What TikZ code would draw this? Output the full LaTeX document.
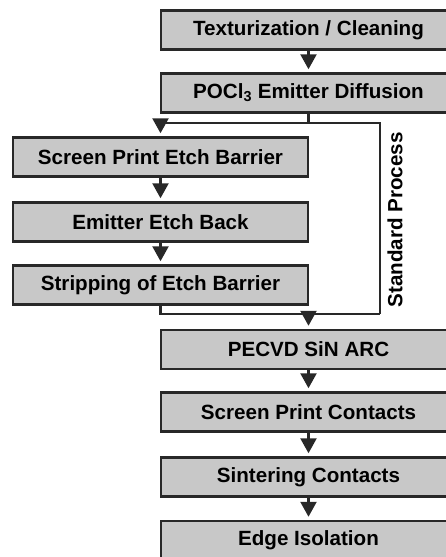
\documentclass[tikz,border=0pt]{standalone}
\usepackage{fontspec}
\setmainfont{Liberation Sans}
\usetikzlibrary{arrows.meta}

\definecolor{boxfill}{RGB}{200,200,200}
\definecolor{boxline}{RGB}{40,40,40}

\tikzset{
  stepbox/.style={draw=boxline, fill=boxfill, line width=2.5pt, minimum width=295pt,
    minimum height=39pt, inner sep=0pt, font=\fontsize{20.6}{24}\selectfont\bfseries},
  flow/.style={draw=boxline, line width=2.4pt},
  flowarr/.style={flow, -{Triangle[length=15pt,width=16pt]}, shorten >=3pt}
}

\begin{document}
\begin{tikzpicture}[x=1pt,y=1pt,yscale=-1]
\useasboundingbox (0,0) rectangle (446,557);

\node [stepbox] (tex) at (308.5,30) {Texturization / Cleaning};
\node [stepbox] (poc) at (308.5,93) {POCl\textsubscript{3} Emitter Diffusion};
\node [stepbox] (barrier) at (160.5,157) {Screen Print Etch Barrier};
\node [stepbox] (etchback) at (160.5,222) {Emitter Etch Back};
\node [stepbox] (strip) at (160.5,285) {Stripping of Etch Barrier};
\node [stepbox] (pecvd) at (308.5,349.5) {PECVD SiN ARC};
\node [stepbox] (contacts) at (308.5,412) {Screen Print Contacts};
\node [stepbox] (sinter) at (308.5,477) {Sintering Contacts};
\node [stepbox] (edge) at (308.5,540.5) {Edge Isolation};

\node [rotate=90, font=\fontsize{20.6}{24}\selectfont\bfseries] (std) at (395,220) {Standard Process};

\coordinate (rtop) at (380,123);
\coordinate (rbot) at (380,314);

\draw [flowarr] (tex) -- (poc);
\draw [flow] (poc.south) -- (poc.south |- rtop) coordinate (fork);
\draw [flowarr] (fork) -| (barrier.north);
\draw [flow] (fork) -- (rtop) -- (rbot);
\draw [flowarr] (barrier) -- (etchback);
\draw [flowarr] (etchback) -- (strip);
\draw [flow] (strip.south) |- (rbot);
\draw [flowarr] (pecvd.north |- rbot) -- (pecvd.north);
\draw [flowarr] (pecvd) -- (contacts);
\draw [flowarr] (contacts) -- (sinter);
\draw [flowarr] (sinter) -- (edge);

\end{tikzpicture}
\end{document}
